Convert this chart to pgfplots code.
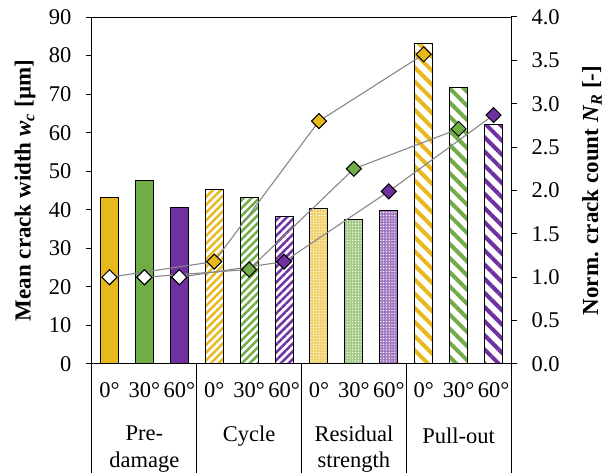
\documentclass[border=0pt]{standalone}
\usepackage{fontspec}
\setmainfont{Liberation Serif}
\usepackage{pgfplots}
\pgfplotsset{compat=1.18}
\usetikzlibrary{patterns.meta}
\definecolor{yel}{RGB}{232,185,28}
\definecolor{grn}{RGB}{112,173,71}
\definecolor{pur}{RGB}{112,48,160}
\definecolor{lgr}{RGB}{135,135,135}
\newcommand{\fs}{\fontsize{22.5}{26.5}\selectfont}
\newcommand{\fl}{\fontsize{23}{27}\selectfont}
\pgfplotsset{
  base/.style={scale only axis, width=419pt, height=347pt, xmin=0.5, xmax=12.5, clip=false,
    tick label style={font=\fs}, label style={font=\fl},
    /pgf/number format/assume math mode=true, axis line style={line width=1pt},
    major tick length=6pt, tick align=outside, tick style={line width=1pt,black}},
  bb/.style={ybar, bar width=18pt, bar shift=0pt, draw=black, line width=1pt},
  sol/.style={bb, fill=#1},
  cyc/.style={bb, preaction={fill=white}, pattern color=#1, pattern={Lines[angle=45,distance=5.5pt,line width=2.5pt]}},
  res/.style={bb, preaction={fill=#1!65!white}, pattern color=white, pattern={Dots[distance=2.8pt,radius=0.7pt]}},
  pul/.style={bb, preaction={fill=white}, pattern color=#1, pattern={Lines[angle=-45,distance=10pt,line width=4pt]}},
  ln/.style={color=lgr, line width=1.1pt, mark=square*, mark size=5.3pt, mark options={rotate=45, fill=#1, draw=black, line width=1pt}},
}
\begin{document}
\begin{tikzpicture}
\begin{axis}[base, ymin=0, ymax=90, ytick={0,10,...,90}, ytick pos=left,
  xtick={1,...,12}, xticklabels={0°,30°,60°,0°,30°,60°,0°,30°,60°,0°,30°,60°},
  xtick style={draw=none}, xticklabel style={yshift=-9pt},
  yticklabel style={xshift=-11pt},
  ylabel={\textbf{Mean crack width \textit{w}\textsubscript{\textit{c}} [µm]}},
  ylabel style={at={(axis description cs:-0.1599,0.5)}, anchor=center}]
\coordinate (SW) at (rel axis cs:0,0);
\addplot[sol=yel] coordinates {(1,43.2)};
\addplot[sol=grn] coordinates {(2,47.7)};
\addplot[sol=pur] coordinates {(3,40.7)};
\addplot[cyc=yel] coordinates {(4,45.3)};
\addplot[cyc=grn] coordinates {(5,43.1)};
\addplot[cyc=pur] coordinates {(6,38.2)};
\addplot[res=yel] coordinates {(7,40.3)};
\addplot[res=grn] coordinates {(8,37.4)};
\addplot[res=pur] coordinates {(9,39.8)};
\addplot[pul=yel] coordinates {(10,83.0)};
\addplot[pul=grn] coordinates {(11,71.7)};
\addplot[pul=pur] coordinates {(12,62.2)};
\draw[line width=1pt] (axis cs:0.5,0) -- ++(0pt,-109pt);
\draw[line width=1pt] (axis cs:3.5,0) -- ++(0pt,-109pt);
\draw[line width=1pt] (axis cs:6.5,0) -- ++(0pt,-109pt);
\draw[line width=1pt] (axis cs:9.5,0) -- ++(0pt,-109pt);
\draw[line width=1pt] (axis cs:12.5,0) -- ++(0pt,-109pt);
\node[align=center,font=\fs] at (axis cs:2,0) [yshift=-85pt] {Pre-\\damage};
\node[align=center,font=\fs] at (axis cs:5,0) [yshift=-72pt] {Cycle};
\node[align=center,font=\fs] at (axis cs:8,0) [yshift=-85pt] {Residual\\strength};
\node[align=center,font=\fs] at (axis cs:11,0) [yshift=-72pt] {Pull-out};
\end{axis}
\begin{axis}[base, ymin=0, ymax=4, ytick={0,0.5,...,4}, axis x line=none, axis y line*=right,
  yticklabel style={/pgf/number format/.cd, fixed, fixed zerofill, precision=1, /tikz/.cd, xshift=11pt},
  ylabel={\textbf{Norm. crack count \textit{N}\textsubscript{\textit{R}} [-]}},
  ylabel style={at={(axis description cs:1.1933,0.5)}, anchor=center}]
\addplot[ln=yel] coordinates {(1,1.0)(4,1.18)(7,2.80)(10,3.57)};
\addplot[ln=grn] coordinates {(2,1.0)(5,1.09)(8,2.25)(11,2.71)};
\addplot[ln=pur] coordinates {(3,1.0)(6,1.18)(9,1.99)(12,2.87)};
\addplot[only marks, mark=square*, mark size=5.3pt, mark options={rotate=45, fill=white, draw=black, line width=1pt}] coordinates {(1,1)(2,1)(3,1)};
\end{axis}
\pgfresetboundingbox
\path (SW) ++(-92pt,-109pt) rectangle ++(611pt,473pt);
\end{tikzpicture}
\end{document}
